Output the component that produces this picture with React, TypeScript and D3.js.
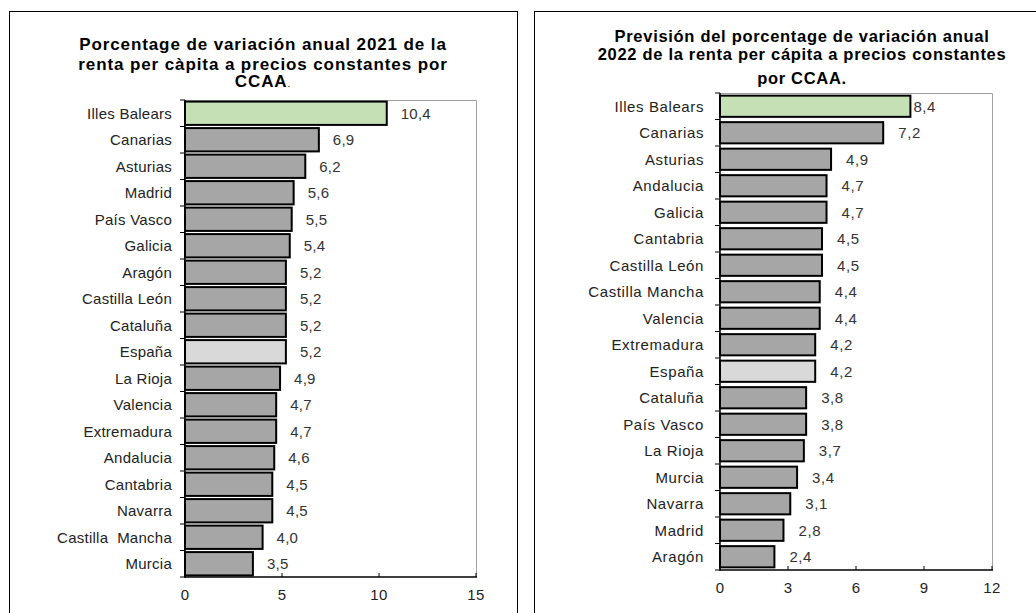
import React, { useEffect, useRef } from 'react';
import * as d3 from 'd3';

// Chart 1: 2021
const regions2021 = ['Illes Balears', 'Canarias', 'Asturias', 'Madrid', 'País Vasco', 'Galicia', 'Aragón', 'Castilla León', 'Cataluña', 'España', 'La Rioja', 'Valencia', 'Extremadura', 'Andalucia', 'Cantabria', 'Navarra', 'Castilla  Mancha', 'Murcia'];
const values2021 = [10.4, 6.9, 6.2, 5.6, 5.5, 5.4, 5.2, 5.2, 5.2, 5.2, 4.9, 4.7, 4.7, 4.6, 4.5, 4.5, 4.0, 3.5];
const ticks2021 = [0, 5, 10, 15];
const title2021 = ['Porcentage de variación anual 2021 de la', 'renta per càpita a precios constantes por', 'CCAA'];

// Chart 2: 2022 forecast
const regions2022 = ['Illes Balears', 'Canarias', 'Asturias', 'Andalucia', 'Galicia', 'Cantabria', 'Castilla León', 'Castilla Mancha', 'Valencia', 'Extremadura', 'España', 'Cataluña', 'País Vasco', 'La Rioja', 'Murcia', 'Navarra', 'Madrid', 'Aragón'];
const values2022 = [8.4, 7.2, 4.9, 4.7, 4.7, 4.5, 4.5, 4.4, 4.4, 4.2, 4.2, 3.8, 3.8, 3.7, 3.4, 3.1, 2.8, 2.4];
const ticks2022 = [0, 3, 6, 9, 12];
const title2022 = ['Previsión del porcentage de variación anual', '2022 de la renta per cápita a precios constantes', 'por CCAA.'];

const FONT = '"Liberation Sans", Arial, sans-serif';

function fillFor(name: string) {
  if (name === 'Illes Balears') return '#c5e0b4';
  if (name === 'España') return '#d9d9d9';
  return '#a6a6a6';
}

const fmt = (v: number) => v.toFixed(1).replace('.', ',');

export default function App() {
  const svgRef = useRef<SVGSVGElement>(null);

  useEffect(() => {
    const svg = d3.select(svgRef.current);
    svg.selectAll('*').remove();

    const panels = [
      {
        box: [9.5, 11.5, 508, 640],
        plot: { left: 185, right: 476, top: 100, bottom: 577 },
        regions: regions2021, values: values2021, ticks: ticks2021, max: 15,
        title: title2021, titleX: 263, titleY: [50, 70, 87], titleSize: 17, titleSpacing: 0.9,
        padding: 0.12, labelGap: 14, dotAfterTitle: true, textSpacing: 0.25, catGap: 13,
      },
      {
        box: [534.5, 11.5, 560, 640],
        plot: { left: 720, right: 992, top: 93, bottom: 570 },
        regions: regions2022, values: values2022, ticks: ticks2022, max: 12,
        title: title2022, titleX: 802, titleY: [42, 60, 84], titleSize: 16.5, titleSpacing: 0.7,
        padding: 0.2, labelGap: 15, dotAfterTitle: false, textSpacing: 0.6, catGap: 16,
      },
    ];

    panels.forEach((p) => {
      const g = svg.append('g');
      g.append('rect')
        .attr('x', p.box[0]).attr('y', p.box[1])
        .attr('width', p.box[2]).attr('height', p.box[3])
        .attr('fill', 'white').attr('stroke', '#000').attr('stroke-width', 1);

      // title
      const t = g.append('text')
        .attr('text-anchor', 'middle')
        .attr('font-family', FONT)
        .attr('font-weight', 'bold')
        .attr('font-size', p.titleSize)
        .attr('letter-spacing', p.titleSpacing)
        .attr('fill', '#000');
      p.title.forEach((line, i) => {
        const ts = t.append('tspan').attr('x', p.titleX).attr('y', p.titleY[i]).text(line);
        if (i === p.title.length - 1 && p.dotAfterTitle) {
          ts.append('tspan').attr('font-weight', 'normal').attr('font-size', 10).text('.');
        }
      });

      const { left, right, top, bottom } = p.plot;
      const x = d3.scaleLinear().domain([0, p.max]).range([left, right]);
      const y = d3.scaleBand<string>().domain(p.regions).range([top, bottom]).paddingInner(p.padding).paddingOuter(p.padding / 2);

      // plot frame (top + right)
      g.append('path')
        .attr('d', `M${left},${top + 0.5}H${right + 0.5}V${bottom}`)
        .attr('fill', 'none').attr('stroke', '#a0a0a0').attr('stroke-width', 1);

      // bars
      g.selectAll('rect.bar')
        .data(p.regions)
        .enter()
        .append('rect')
        .attr('class', 'bar')
        .attr('x', x(0))
        .attr('y', (d) => y(d)!)
        .attr('width', (_, i) => x(p.values[i]) - x(0))
        .attr('height', y.bandwidth())
        .attr('fill', (d) => fillFor(d))
        .attr('stroke', '#000')
        .attr('stroke-width', 2);

      // value labels
      g.selectAll('text.val')
        .data(p.regions)
        .enter()
        .append('text')
        .attr('class', 'val')
        .attr('x', (_, i) => x(p.values[i]) + (p.max === 12 && i === 0 ? 3 : p.labelGap))
        .attr('y', (d) => y(d)! + y.bandwidth() / 2 + 5.5)
        .attr('font-family', FONT)
        .attr('font-size', 15)
        .attr('letter-spacing', p.textSpacing)
        .attr('fill', '#333')
        .text((_, i) => fmt(p.values[i]));

      // y axis
      const yAxisG = g.append('g');
      yAxisG.append('line')
        .attr('x1', left).attr('x2', left).attr('y1', top).attr('y2', bottom + 1)
        .attr('stroke', '#000').attr('stroke-width', 1.5);
      d3.range(p.regions.length + 1).forEach((k) => {
        const yy = top + k * (bottom - top) / p.regions.length;
        yAxisG.append('line')
          .attr('x1', left - 5).attr('x2', left).attr('y1', yy).attr('y2', yy)
          .attr('stroke', '#000').attr('stroke-width', 1);
      });
      g.selectAll('text.cat')
        .data(p.regions)
        .enter()
        .append('text')
        .attr('class', 'cat')
        .attr('x', left - p.catGap)
        .attr('y', (d) => y(d)! + y.bandwidth() / 2 + 5.5)
        .attr('text-anchor', 'end')
        .attr('font-family', FONT)
        .attr('font-size', 15)
        .attr('letter-spacing', p.textSpacing)
        .attr('fill', '#222')
        .style('white-space', 'pre')
        .text((d) => d);

      // x axis
      const xAxisG = g.append('g');
      xAxisG.append('line')
        .attr('x1', left).attr('x2', right + 1).attr('y1', bottom).attr('y2', bottom)
        .attr('stroke', '#000').attr('stroke-width', 1.5);
      p.ticks.forEach((tv) => {
        xAxisG.append('line')
          .attr('x1', x(tv)).attr('x2', x(tv)).attr('y1', bottom - 4).attr('y2', bottom)
          .attr('stroke', '#000').attr('stroke-width', 1);
        xAxisG.append('text')
          .attr('x', x(tv))
          .attr('y', bottom + 23)
          .attr('text-anchor', 'middle')
          .attr('font-family', FONT)
          .attr('font-size', 15)
          .attr('letter-spacing', 0.3)
          .attr('fill', '#222')
          .text(tv);
      });
    });
  }, []);

  return (
    <div style={{ position: 'absolute', left: 0, top: 0, width: 1036, height: 613, overflow: 'hidden', background: '#fff' }}>
      <svg ref={svgRef} width={1036} height={613} style={{ display: 'block' }} />
    </div>
  );
}
